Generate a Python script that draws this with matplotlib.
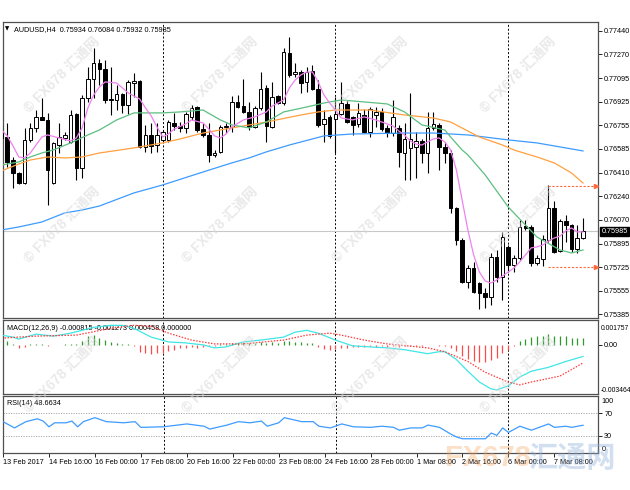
import matplotlib
matplotlib.use("Agg")
import matplotlib.pyplot as plt
import matplotlib.transforms as mtransforms

plt.rcParams['font.family'] = ['Liberation Sans', 'DejaVu Sans', 'Noto Sans CJK SC']

# ---- price bars (AUDUSD H4), first bar = 13 Feb 08:00 ----
opens = [0.76663, 0.76670, 0.76503, 0.76409, 0.76336, 0.76649, 0.76736, 0.76816, 0.76794, 0.76336,
         0.76612, 0.76663, 0.76634, 0.76837, 0.76445, 0.76954, 0.77092, 0.77208, 0.77164, 0.76946,
         0.76939, 0.76983, 0.76903, 0.77062, 0.77077, 0.76598, 0.76685, 0.76612, 0.76649, 0.76649,
         0.76772, 0.76750, 0.76736, 0.76816, 0.76888, 0.76728, 0.76685, 0.76540, 0.76562, 0.76743,
         0.76743, 0.76925, 0.76895, 0.76852, 0.76743, 0.76881, 0.77026, 0.76743, 0.76968, 0.76917,
         0.77280, 0.77128, 0.77142, 0.77070, 0.77150, 0.77019, 0.76765, 0.76816, 0.76801, 0.76837,
         0.76910, 0.76816, 0.76765, 0.76830, 0.76707, 0.76830, 0.76852, 0.76736, 0.76699, 0.76736,
         0.76554, 0.76591, 0.76598, 0.76641, 0.76554, 0.76736, 0.76758, 0.76598, 0.76554, 0.76155,
         0.75923, 0.75618, 0.75719, 0.75610, 0.75538, 0.75509, 0.75799, 0.75654, 0.75872, 0.75741,
         0.75792, 0.76024, 0.76017, 0.75756, 0.75785, 0.75923, 0.76155, 0.75843, 0.76061, 0.76032,
         0.75857, 0.75934]
highs = [0.76765, 0.76772, 0.76525, 0.76416, 0.76736, 0.76772, 0.76866, 0.76954, 0.76845, 0.76634,
         0.76772, 0.76707, 0.76866, 0.76845, 0.76975, 0.77179, 0.77317, 0.77237, 0.77229, 0.77179,
         0.77048, 0.76990, 0.77084, 0.77135, 0.77084, 0.76758, 0.76772, 0.76772, 0.76721, 0.76794,
         0.76845, 0.76779, 0.76852, 0.76903, 0.76895, 0.76772, 0.76772, 0.76576, 0.76758, 0.76772,
         0.76968, 0.76975, 0.77092, 0.76925, 0.76895, 0.77142, 0.77048, 0.77070, 0.76975, 0.77317,
         0.77396, 0.77208, 0.77157, 0.77179, 0.77193, 0.77084, 0.76866, 0.76830, 0.76961, 0.77070,
         0.76939, 0.76823, 0.76917, 0.76874, 0.76888, 0.76888, 0.76881, 0.76758, 0.76939, 0.76758,
         0.76772, 0.76990, 0.76707, 0.76656, 0.76852, 0.76852, 0.76772, 0.76634, 0.76576, 0.76162,
         0.75937, 0.75741, 0.75763, 0.75618, 0.75574, 0.75828, 0.75850, 0.75981, 0.75886, 0.75814,
         0.76068, 0.76068, 0.76032, 0.75814, 0.75959, 0.76322, 0.76206, 0.76075, 0.76104, 0.76039,
         0.76032, 0.76084]
lows = [0.76627, 0.76453, 0.76300, 0.76330, 0.76330, 0.76634, 0.76707, 0.76790, 0.76177, 0.76330,
        0.76554, 0.76649, 0.76627, 0.76358, 0.76373, 0.76925, 0.76954, 0.77048, 0.76917, 0.76830,
        0.76866, 0.76845, 0.76837, 0.76961, 0.76590, 0.76562, 0.76554, 0.76562, 0.76634, 0.76634,
        0.76721, 0.76707, 0.76699, 0.76794, 0.76707, 0.76670, 0.76489, 0.76525, 0.76554, 0.76699,
        0.76707, 0.76881, 0.76845, 0.76721, 0.76736, 0.76866, 0.76634, 0.76736, 0.76910, 0.76903,
        0.77106, 0.77106, 0.76990, 0.76997, 0.77012, 0.76743, 0.76634, 0.76663, 0.76554, 0.76830,
        0.76772, 0.76685, 0.76743, 0.76699, 0.76670, 0.76743, 0.76714, 0.76670, 0.76678, 0.76453,
        0.76358, 0.76358, 0.76373, 0.76482, 0.76409, 0.76721, 0.76431, 0.76482, 0.76119, 0.75886,
        0.75610, 0.75574, 0.75538, 0.75422, 0.75429, 0.75451, 0.75618, 0.75487, 0.75690, 0.75690,
        0.75777, 0.75995, 0.75734, 0.75741, 0.75734, 0.75908, 0.75828, 0.75835, 0.75908, 0.75835,
        0.75828, 0.75932]
closes = [0.76699, 0.76489, 0.76409, 0.76336, 0.76649, 0.76736, 0.76816, 0.76794, 0.76431, 0.76627,
          0.76670, 0.76685, 0.76830, 0.76445, 0.76954, 0.77092, 0.77208, 0.77164, 0.76939, 0.76939,
          0.76983, 0.76903, 0.77070, 0.77077, 0.76598, 0.76685, 0.76605, 0.76685, 0.76707, 0.76779,
          0.76750, 0.76736, 0.76837, 0.76881, 0.76721, 0.76685, 0.76540, 0.76554, 0.76743, 0.76750,
          0.76925, 0.76888, 0.76852, 0.76743, 0.76881, 0.77019, 0.76750, 0.76961, 0.76917, 0.77288,
          0.77121, 0.77142, 0.77062, 0.77142, 0.77019, 0.76758, 0.76801, 0.76678, 0.76837, 0.76917,
          0.76779, 0.76758, 0.76845, 0.76707, 0.76874, 0.76852, 0.76728, 0.76699, 0.76816, 0.76562,
          0.76656, 0.76656, 0.76641, 0.76554, 0.76736, 0.76765, 0.76598, 0.76554, 0.76155, 0.75923,
          0.75618, 0.75719, 0.75545, 0.75538, 0.75509, 0.75799, 0.75654, 0.75944, 0.75741, 0.75792,
          0.76017, 0.76010, 0.75756, 0.75792, 0.75930, 0.76155, 0.75835, 0.76061, 0.76032, 0.75857,
          0.75937, 0.75985]

# ---- moving averages (bar index, value) ----
ma_fast_idx = [0, 1, 2, 3, 4, 5, 6, 7, 8, 10, 12, 13, 14, 15, 16, 17, 18, 20, 22, 24, 25, 26, 27, 28,
               29, 30, 32, 33, 35, 36, 37, 38, 39, 40, 42, 44, 46, 47, 49, 50, 51, 52, 53, 54, 55, 56,
               57, 58, 59, 61, 63, 65, 67, 68, 69, 70, 71, 72, 73, 74, 75, 76, 77, 78, 79, 80, 81, 82,
               83, 84, 85, 86, 87, 88, 89, 90, 91, 92, 93, 94, 95, 96, 97, 98, 99, 100, 101]
ma_fast = [0.76721, 0.76678, 0.76605, 0.76525, 0.76518, 0.76554, 0.76612, 0.76670, 0.76685, 0.76663,
           0.76641, 0.76663, 0.76736, 0.76881, 0.76975, 0.77033, 0.77070, 0.77062, 0.76990, 0.76946,
           0.76881, 0.76823, 0.76743, 0.76670, 0.76692, 0.76728, 0.76765, 0.76794, 0.76772, 0.76728,
           0.76678, 0.76663, 0.76692, 0.76743, 0.76794, 0.76816, 0.76852, 0.76895, 0.76939, 0.77026,
           0.77084, 0.77121, 0.77142, 0.77142, 0.77070, 0.76975, 0.76917, 0.76866, 0.76808, 0.76794,
           0.76816, 0.76794, 0.76765, 0.76750, 0.76714, 0.76685, 0.76641, 0.76619, 0.76612, 0.76634,
           0.76656, 0.76663, 0.76634, 0.76576, 0.76431, 0.76213, 0.75995, 0.75814, 0.75690, 0.75625,
           0.75610, 0.75632, 0.75661, 0.75690, 0.75719, 0.75763, 0.75814, 0.75865, 0.75872, 0.75886,
           0.75915, 0.75937, 0.75951, 0.75988, 0.76010, 0.75981, 0.75981]

ma_mid_idx = [0, 3, 5, 7, 9, 12, 15, 17, 20, 23, 28, 31, 35, 38, 40, 43, 46, 49, 53, 56, 59, 67, 70,
              73, 77, 78, 80, 81, 84, 88, 93, 97, 99, 101]
ma_mid = [0.76467, 0.76489, 0.76525, 0.76554, 0.76576, 0.76627, 0.76685, 0.76721, 0.76794, 0.76845,
          0.76845, 0.76852, 0.76866, 0.76794, 0.76758, 0.76736, 0.76779, 0.76852, 0.76888, 0.76917,
          0.76939, 0.76910, 0.76852, 0.76758, 0.76721, 0.76670, 0.76576, 0.76540, 0.76395, 0.76162,
          0.75944, 0.75850, 0.75828, 0.75850]

ma_slow_idx = [0, 3, 5, 8, 11, 14, 17, 23, 28, 31, 35, 40, 46, 52, 55, 58, 64, 70, 75, 78, 83, 87,
               89, 93, 96, 99, 101]
ma_slow = [0.76424, 0.76474, 0.76503, 0.76525, 0.76518, 0.76525, 0.76554, 0.76591, 0.76627, 0.76656,
           0.76699, 0.76736, 0.76779, 0.76830, 0.76852, 0.76866, 0.76866, 0.76830, 0.76808, 0.76779,
           0.76670, 0.76612, 0.76576, 0.76525, 0.76482, 0.76409, 0.76336]

ma_long_idx = [0, 3, 7, 11, 14, 17, 23, 28, 35, 40, 43, 46, 50, 52, 56, 61, 70, 75, 81, 88, 93, 101]
ma_long = [0.75995, 0.76017, 0.76053, 0.76119, 0.76140, 0.76169, 0.76264, 0.76322, 0.76416, 0.76482,
           0.76518, 0.76562, 0.76612, 0.76634, 0.76678, 0.76692, 0.76699, 0.76699, 0.76685, 0.76649,
           0.76627, 0.76569]

levels = [0.76315, 0.75727]
level_start = 95

# ---- MACD(12,26,9) ----
macd_idx = [0, 2, 3, 6, 9, 12, 14, 16, 19, 21, 23, 26, 29, 32, 35, 37, 39, 42, 45, 49, 51, 53, 55, 58,
            61, 64, 67, 70, 74, 76, 77, 79, 81, 83, 85, 86, 88, 90, 92, 95, 98, 101]
macd_main = [0.00069, 0.00055, 0.00041, 0.00076, 0.00062, 0.00083, 0.00103, 0.00124, 0.00138, 0.00138,
             0.00117, 0.00055, 0.00021, 0.00014, 0.00000, -0.00021, -0.00014, 0.00021, 0.00034, 0.00055,
             0.00090, 0.00103, 0.00083, 0.00034, -0.00007, -0.00014, -0.00021, -0.00034, -0.00062,
             -0.00048, -0.00048, -0.00103, -0.00186, -0.00262, -0.00310, -0.00317, -0.00289, -0.00227,
             -0.00186, -0.00158, -0.00117, -0.000815]
signal_idx = [0, 6, 13, 19, 23, 26, 29, 33, 37, 42, 49, 53, 57, 59, 63, 67, 74, 77, 81, 84, 88, 90, 92,
              97, 101]
macd_signal = [0.00048, 0.00062, 0.00069, 0.00117, 0.00138, 0.00131, 0.00083, 0.00034, 0.00007, 0.00007,
               0.00034, 0.00069, 0.00083, 0.00069, 0.00034, 0.00007, -0.00021, -0.00048, -0.00117,
               -0.00193, -0.00262, -0.00282, -0.00262, -0.00220, -0.001273]
macd_hist = [0.00030, 0.00030, 0.00005, -0.00020, -0.00015, 0.00005, 0.00008, 0.00005, -0.00005, -0.00003,
             0.00002, 0.00003, 0.00005, 0.00008, 0.00030, 0.00060, 0.00070, 0.00050, 0.00035, 0.00020,
             0.00015, 0.00008, 0.00005, -0.00005, -0.00050, -0.00060, -0.00062, -0.00060, -0.00055, -0.00045,
             -0.00035, -0.00025, -0.00020, -0.00018, -0.00020, -0.00015, -0.00010, -0.00005, 0.00003, 0.00005,
             0.00010, 0.00015, 0.00020, 0.00015, 0.00015, 0.00020, 0.00015, 0.00018, 0.00015, 0.00030,
             0.00025, 0.00022, 0.00018, 0.00015, 0.00010, -0.00015, -0.00030, -0.00035, -0.00030, -0.00020,
             -0.00020, -0.00018, -0.00012, -0.00015, -0.00010, -0.00012, -0.00010, -0.00012, -0.00008, -0.00012,
             -0.00010, -0.00005, -0.00006, -0.00010, -0.00004, -0.00003, -0.00005, -0.00008, -0.00020, -0.00045,
             -0.00075, -0.00100, -0.00115, -0.00120, -0.00120, -0.00105, -0.00090, -0.00060, -0.00035, -0.00010,
             0.00030, 0.00045, 0.00055, 0.00060, 0.00065, 0.00075, 0.00065, 0.00065, 0.00060, 0.00050,
             0.00048, 0.000458]
macd_max = 0.001757
macd_min = -0.003464

# ---- RSI(14) ----
rsi_idx = [0, 2, 4, 6, 7, 8, 9, 11, 12, 13, 14, 16, 18, 21, 23, 24, 28, 32, 35, 36, 39, 41, 43, 45, 46,
           48, 49, 52, 54, 55, 57, 59, 61, 64, 66, 68, 69, 71, 73, 74, 76, 78, 79, 80, 84, 85, 86, 87,
           88, 90, 92, 95, 96, 98, 99, 101]
rsi = [55, 44, 55, 60, 56, 46, 53, 53, 56, 46, 55, 62, 55, 53, 55, 45, 46, 51, 47, 42, 49, 55, 53, 56, 47,
       53, 62, 55, 55, 47, 44, 51, 46, 45, 47, 45, 40, 44, 44, 49, 45, 33, 28, 25, 25, 35, 31, 44,
       36, 47, 40, 51, 45, 47, 45, 48.6634]

price_ticks = [0.77440, 0.77270, 0.77095, 0.76925, 0.76755, 0.76585, 0.76410, 0.76240, 0.76070,
               0.75895, 0.75725, 0.75555, 0.75385]
time_idx = [0, 8, 16, 24, 32, 40, 48, 56, 64, 72, 80, 88, 96]
time_labels = ["13 Feb 2017", "14 Feb 16:00", "16 Feb 00:00", "17 Feb 08:00", "20 Feb 16:00",
               "22 Feb 00:00", "23 Feb 08:00", "24 Feb 16:00", "28 Feb 00:00", "1 Mar 08:00",
               "2 Mar 16:00", "6 Mar 00:00", "7 Mar 08:00"]
week_separators = [28, 58, 88]

FS = 5.2
W, H = 630, 490
X_LEFT, X_RIGHT = 0.26, 103.6
PRICE_LOW, PRICE_HIGH = 0.75356, 0.77505


def panel(fig, top, bottom):
    ax = fig.add_axes([3 / W, 1 - bottom / H, 595 / W, (bottom - top) / H])
    ax.set_xlim(X_LEFT, X_RIGHT)
    ax.set_facecolor("white")
    for s in ax.spines.values():
        s.set_color("#505050")
        s.set_linewidth(0.9)
    ax.yaxis.tick_right()
    ax.tick_params(axis="y", length=3, width=0.6, pad=1.5, labelsize=FS, colors="black")
    ax.tick_params(axis="x", length=0, labelbottom=False)
    for sep in week_separators:
        ax.axvline(sep, color="black", lw=0.7, ls=(0, (2, 2)), zorder=1)
    return ax


def draw_candles(ax):
    for i in range(len(opens)):
        o, h, l, c = opens[i], highs[i], lows[i], closes[i]
        ax.vlines(i, l, h, color="black", lw=0.8, zorder=3)
        bull = c >= o
        ax.bar(i, abs(c - o) if abs(c - o) > 0 else 0.000005, bottom=min(o, c), width=0.62,
               color="white" if bull else "black", edgecolor="black", lw=0.7, zorder=4)


def main():
    fig = plt.figure(figsize=(W / 100, H / 100), dpi=100)

    # main price panel
    ax = panel(fig, 22, 318)
    ax.set_ylim(PRICE_LOW, PRICE_HIGH)
    ax.axhline(closes[-1], color="#c8c8c8", lw=0.8, zorder=2)
    draw_candles(ax)
    ax.plot(ma_long_idx, ma_long, color="#3d9bff", lw=0.9, zorder=5)
    ax.plot(ma_slow_idx, ma_slow, color="#ffa040", lw=0.9, zorder=5)
    ax.plot(ma_mid_idx, ma_mid, color="#5cbf80", lw=0.9, zorder=5)
    ax.plot(ma_fast_idx, ma_fast, color="#ee82ee", lw=0.9, zorder=5)
    for lv in levels:
        ax.hlines(lv, level_start, X_RIGHT - 0.3, colors="#ff6a3d", linestyles=(0, (2, 1.5)), lw=0.8, zorder=5)
        ax.plot([X_RIGHT - 0.4], [lv], marker=">", ms=3, color="#ff6a3d", zorder=6)
    ax.set_yticks(price_ticks)
    ax.set_yticklabels([f"{t:.5f}" for t in price_ticks])
    trans = mtransforms.blended_transform_factory(ax.transAxes, ax.transData)
    ax.text(1.006, closes[-1], f"{closes[-1]:.5f}", transform=trans, fontsize=FS, color="white",
            va="center", ha="left", zorder=10, clip_on=False,
            bbox=dict(boxstyle="square,pad=0.15", fc="black", ec="black"))
    ax.text(0.004, 0.985, "\u25bc", transform=ax.transAxes, fontsize=4, va="top", ha="left",
            family="DejaVu Sans")
    ax.text(0.018, 0.987, "AUDUSD,H4  %.5f %.5f %.5f %.5f" % (opens[-1], highs[-1], lows[-1], closes[-1]),
            transform=ax.transAxes, fontsize=FS, va="top", ha="left")

    # MACD panel
    axm = panel(fig, 320, 394)
    axm.set_ylim(macd_min, macd_max)
    hcol = ["#2e9a2e" if v >= 0 else "#ff4a4a" for v in macd_hist]
    axm.vlines(range(len(macd_hist)), 0, macd_hist, colors=hcol, lw=0.9, zorder=3)
    axm.plot(macd_idx, macd_main, color="#40e6e6", lw=0.9, zorder=4)
    axm.plot(signal_idx, macd_signal, color="#ff3a3a", lw=0.9, ls=(0, (1.2, 1.2)), zorder=4)
    axm.set_yticks([0])
    axm.set_yticklabels(["0.00"])
    axm.text(1.004, 0.88, f"{macd_max:.6f}", transform=axm.transAxes, fontsize=4.9, va="center", ha="left")
    axm.text(1.004, 0.05, f"{macd_min:.6f}", transform=axm.transAxes, fontsize=4.9, va="center", ha="left")
    axm.text(0.006, 0.93, "MACD(12,26,9) %.6f %.6f %.6f 0.000000"
             % (macd_main[-1], macd_signal[-1], macd_hist[-1]),
             transform=axm.transAxes, fontsize=FS, va="top", ha="left")

    # RSI panel
    axr = panel(fig, 396, 453)
    axr.set_ylim(0, 100)
    for lv in (70, 30):
        axr.axhline(lv, color="#a0a0a0", lw=0.6, ls=(0, (1.5, 1.5)), zorder=1)
    axr.plot(rsi_idx, rsi, color="#3d9bff", lw=0.9, zorder=4)
    axr.set_yticks([70, 30])
    axr.set_yticklabels(["70", "30"])
    axr.text(1.006, 0.9, "100", transform=axr.transAxes, fontsize=FS, va="center", ha="left")
    axr.text(1.006, 0.07, "0", transform=axr.transAxes, fontsize=FS, va="center", ha="left")
    axr.text(0.006, 0.93, "RSI(14) %.4f" % rsi[-1], transform=axr.transAxes, fontsize=FS,
             va="top", ha="left")
    axr.set_xticks(time_idx)
    axr.set_xticklabels(time_labels, ha="left")
    axr.tick_params(axis="x", length=3, width=0.6, pad=1.5, labelsize=FS, labelbottom=True)

    # watermarks
    wm = "\u00a9 FX678 \u6c47\u901a\u7f51"
    for row_y in (75, 225, 375):
        for col_x in (62, 220, 370, 518):
            fig.text(col_x / W, 1 - row_y / H, wm, rotation=45, fontsize=10, weight="bold",
                     color="#d8d8d8", alpha=0.55, ha="center", va="center", zorder=20)
    fig.text(445 / W, 1 - 458 / H, "FX678", fontsize=21, weight="bold", color="#f4a460",
             alpha=0.35, ha="left", va="center", zorder=20)
    fig.text(528 / W, 1 - 458 / H, "\u6c47\u901a\u7f51", fontsize=21, weight="bold",
             color="#8fb0dd", alpha=0.4, ha="left", va="center", zorder=20,
             family=["Noto Sans CJK SC", "DejaVu Sans"])

    fig.savefig("out.png", dpi=100)
    plt.close(fig)


if __name__ == "__main__":
    main()
